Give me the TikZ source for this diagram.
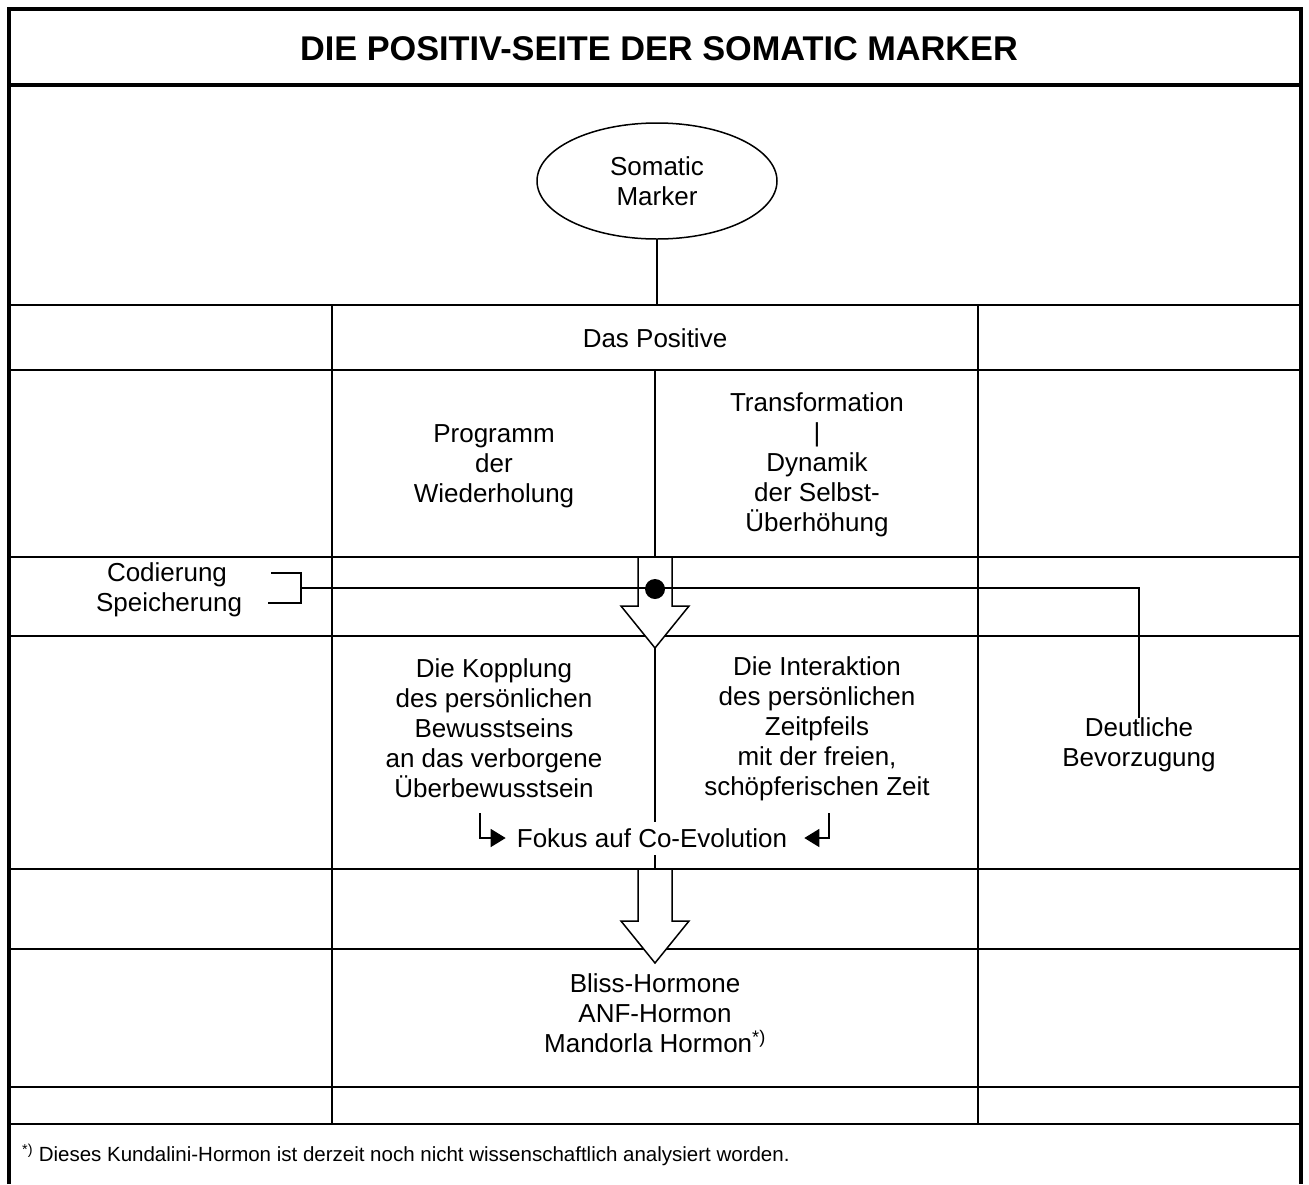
\documentclass[tikz,border=0pt]{standalone}
\usepackage{fontspec}
\setmainfont{Liberation Sans}
\usetikzlibrary{shapes.geometric,arrows.meta}
\tikzset{
  frame/.style={line width=4pt},
  grid/.style={line width=2.5pt},
  link/.style={line width=1.5pt},
  txt/.style={align=center,inner sep=0pt,font=\fontsize{26}{30}\selectfont},
  blockarrow/.style={link,fill=white,line join=miter},
  tip/.style={-{Triangle[length=15pt,width=18pt]}}
}
\begin{document}
\begin{tikzpicture}[x=1pt,y=-1pt]
\useasboundingbox (0,0) rectangle (1309,1184);

    % Frame and title
    \draw[frame] (9,1184) -- (9,9) -- (1301,9) -- (1301,1184);
    \draw[frame] (9,85) -- (1301,85);
    \node[font=\fontsize{34.3}{40}\selectfont\bfseries] (title) at (659,49) {DIE POSITIV-SEITE DER SOMATIC MARKER};

    % Table rows and columns
    \foreach \y in {305,370,557,636,869,949,1087,1124}
        \draw[grid] (9,\y) -- (1301,\y);
    \foreach \x in {332,978}
        \draw[grid] (\x,305) -- (\x,1124);

    % Define the points on the middle axis
    \coordinate (rowtop) at (657,305);
    \coordinate (axis) at (655,370);
    \coordinate (shaft) at (655,557);
    \coordinate (tipa) at (655,648);
    \coordinate (gapa) at (655,822);
    \coordinate (gapb) at (655,855);
    \coordinate (rowend) at (655,869);

    % Somatic marker
    \node[ellipse,draw,link,txt,minimum width=240pt,minimum height=116pt] (sm) at (657,181) {Somatic\\Marker};
    \draw[link] (sm.south) -- (rowtop);

    % Texts
    \node[txt] (pos) at (655,338) {Das Positive};
    \node[txt] (prog) at (494,466) {Programm\\der\\Wiederholung};
    \node[txt] (trans) at (817,465) {Transformation\\|\\Dynamik\\der Selbst-\\Überhöhung};
    \node[txt] (kop) at (494,728) {Die Kopplung\\des persönlichen\\Bewusstseins\\an das verborgene\\Überbewusstsein};
    \node[txt] (inter) at (817,729) {Die Interaktion\\des persönlichen\\Zeitpfeils\\mit der freien,\\schöpferischen Zeit};
    \node[txt] (dev) at (1139,745) {Deutliche\\Bevorzugung};
    \node[txt] (cod) at (167,575) {Codierung};
    \node[txt] (spe) at (169,605) {Speicherung};
    \node[txt] (fokus) at (652,838) {Fokus auf Co-Evolution};
    \node[txt] (bliss) at (655,1013) {Bliss-Hormone\\ANF-Hormon\\Mandorla Hormon\textsuperscript{*)}};
    \node[anchor=west,inner sep=0pt,font=\fontsize{20.5}{24}\selectfont] (note) at (22,1155) {\textsuperscript{*)} Dieses Kundalini-Hormon ist derzeit noch nicht wissenschaftlich analysiert worden.};

    % Middle axis with the two block arrows
    \draw[link] (axis) -- (shaft);
    \draw[blockarrow] (638,557) -- (638,606) -- (621,606) -- (tipa) -- (689,606) -- (672,606) -- (672,557) -- cycle;
    \draw[link] (tipa) -- (gapa);
    \draw[link] (gapb) -- (rowend);
    \draw[blockarrow] (638,869) -- (638,921) -- (621,921) -- (655,963) -- (689,921) -- (672,921) -- (672,869) -- cycle;

    % Bracket from Codierung/Speicherung to Deutliche Bevorzugung
    \coordinate (ba) at (271,573);
    \coordinate (bb) at (268,603);
    \coordinate (bm) at (301,588);
    \draw[link] (ba) -- (301,573) -- (301,603) -- (bb);
    \draw[link] (bm) -| (dev.north);
    \fill (655,589) circle (10pt);

    % Bent arrows to Fokus
    \coordinate (kl) at (480,813);
    \coordinate (kr) at (829,813);
    \draw[link,tip] (kl) |- ([xshift=-11pt]fokus.west);
    \draw[link,tip] (kr) |- ([xshift=17pt]fokus.east);

\end{tikzpicture}
\end{document}
